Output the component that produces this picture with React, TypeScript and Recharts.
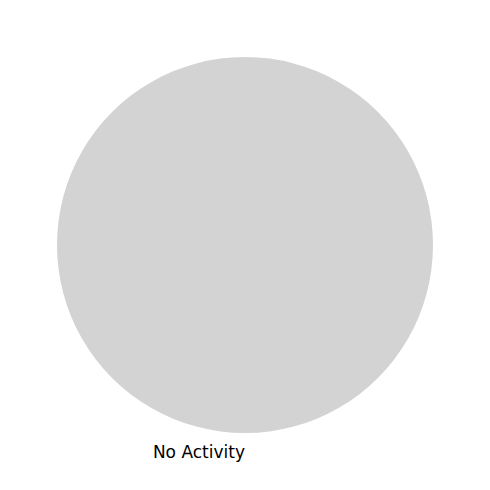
import React from 'react';
import { PieChart, Pie, Cell } from 'recharts';

const labels = ['No Activity'];
const values = [1];
const colors = ['#d3d3d3'];

const data = labels.map((name, i) => ({ name, value: values[i] }));

const RAD = Math.PI / 180;

function renderLabel(props: any) {
  const { cx, cy, midAngle, outerRadius, name } = props;
  const c = Math.cos(-midAngle * RAD);
  const s = Math.sin(-midAngle * RAD);
  const x = cx + outerRadius * 1.1 * c;
  const y = cy + outerRadius * 1.1 * s;
  return (
    <text
      x={x}
      y={y}
      textAnchor={c > 0 ? 'start' : 'end'}
      dominantBaseline="central"
      fill="#000"
      fontSize={17}
      fontFamily="DejaVu Sans"
    >
      {name}
    </text>
  );
}

export default function App() {
  return (
    <div style={{ position: 'absolute', left: 0, top: 0, width: 490, height: 490, background: '#fff' }}>
      <PieChart width={490} height={490} margin={{ top: 0, right: 0, bottom: 0, left: 0 }}>
        <Pie
          data={data}
          dataKey="value"
          nameKey="name"
          cx={245}
          cy={245}
          outerRadius={188}
          startAngle={90}
          endAngle={450}
          stroke="none"
          label={renderLabel}
          labelLine={false}
          isAnimationActive={false}
        >
          {data.map((d, i) => (
            <Cell key={d.name} fill={colors[i]} />
          ))}
        </Pie>
      </PieChart>
    </div>
  );
}
